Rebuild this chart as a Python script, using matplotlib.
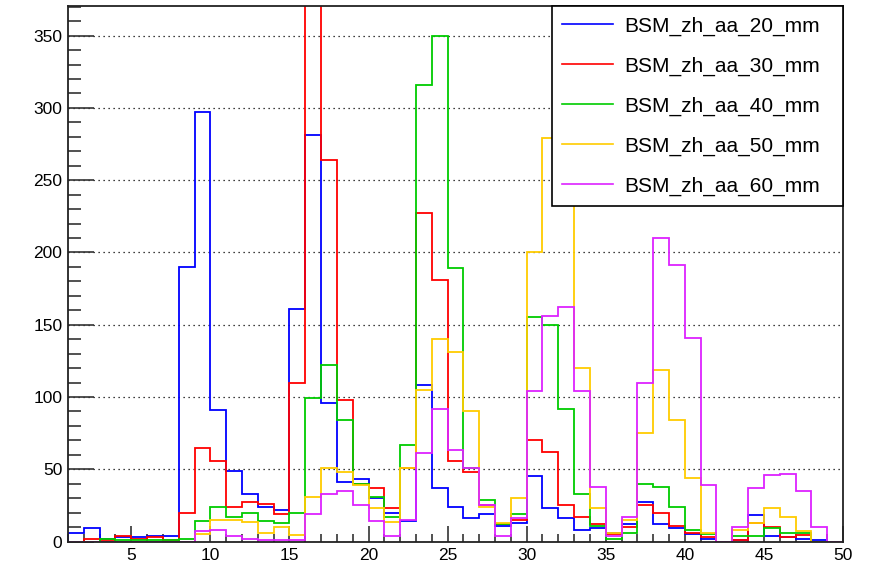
import matplotlib
matplotlib.use('Agg')
import matplotlib.pyplot as plt
import numpy as np
from matplotlib.ticker import MultipleLocator

plt.rcParams['font.family'] = ['Liberation Sans', 'DejaVu Sans']

# bin edges 1..50, one entry per bin
edges = np.arange(1, 51)

h20 = [6, 9, 2, 3, 3, 3.5, 3.5, 190, 297, 91,
       49, 33, 24, 22, 161, 281, 96, 41, 43, 30,
       20, 14, 108, 37, 24, 16, 19, 11, 13, 45,
       23, 16, 8, 9.5, 6, 12, 27, 12, 9, 5,
       2, 0, 1, 18, 4, 3, 2, 1, 0]
h30 = [0, 2, 1, 4, 2, 3, 1, 20, 65, 56,
       24, 27.5, 26, 19, 110, 400, 264, 98, 40, 37,
       23, 51, 227, 181, 56, 48, 25, 12, 15, 70,
       62, 25, 17, 12, 5, 10, 25, 20, 11, 6,
       3, 0, 1, 13, 10, 3, 4.5, 0, 0]
h40 = [0, 0, 1.5, 1, 1, 1, 1, 2, 14, 24,
       17, 20, 14, 13, 20, 99, 122, 84, 40, 31,
       17, 67, 316, 350, 189, 51, 29, 12, 19, 155,
       150, 92, 33, 11, 2, 6, 40, 38, 24, 8,
       5, 0, 4, 4, 9, 6, 6, 0, 0]
h50 = [0, 0, 0, 0, 0, 0, 0, 0, 5, 15,
       15, 13.5, 6, 10, 4.5, 31, 51, 48, 39, 23,
       13.5, 51, 105, 140, 131, 90, 24, 13, 30, 200,
       279, 255, 120, 23, 6, 15, 75, 119, 84, 44,
       6, 0, 8, 13, 23, 17, 7, 0, 0]
h60 = [0, 0, 0, 0, 0, 0, 0, 0, 7, 8,
       4, 2, 1, 1, 1, 19, 33, 35, 25, 14,
       4, 15, 61, 92, 63, 51, 25, 4, 16, 104,
       156, 162, 104, 38, 4, 17, 110, 210, 191, 141,
       39, 0, 10, 37, 46, 47, 35, 10, 0]

labels = ['BSM_zh_aa_20_mm', 'BSM_zh_aa_30_mm', 'BSM_zh_aa_40_mm',
          'BSM_zh_aa_50_mm', 'BSM_zh_aa_60_mm']
colors = ['#0000ff', '#ff0000', '#00cc00', '#ffcc00', '#dd22ff']

fig = plt.figure(figsize=(8.75, 5.68), dpi=100)
ax = fig.add_axes([68/875, 26.5/568, 775/875, 535.5/568])

for vals, lab, col in zip([h20, h30, h40, h50, h60], labels, colors):
    ax.stairs(vals, edges, baseline=0, color=col, lw=1.3, label=lab)

ax.set_xlim(1, 50)
ax.set_ylim(0, 370.5)

ax.xaxis.set_major_locator(MultipleLocator(5))
ax.xaxis.set_minor_locator(MultipleLocator(1))
ax.yaxis.set_major_locator(MultipleLocator(50))
ax.yaxis.set_minor_locator(MultipleLocator(10))
ax.set_xticks([5, 10, 15, 20, 25, 30, 35, 40, 45, 50])

ax.tick_params(axis='both', which='both', direction='in', labelsize=12.5,
               width=1.2, color='#333333', top=False, right=False)
ax.tick_params(axis='y', which='major', length=18.7, pad=4)
ax.tick_params(axis='y', which='minor', length=9)
ax.tick_params(axis='x', which='major', length=11.5, pad=5)
ax.tick_params(axis='x', which='minor', length=5.8)

ax.grid(axis='y', which='major', linestyle=(0, (1, 3)), color='black', lw=0.9)
ax.set_axisbelow(True)

for s in ax.spines.values():
    s.set_linewidth(1.3)
    s.set_color('#222222')

# legend box spans the right part of the frame, top aligned
leg = ax.legend(loc='upper left', bbox_to_anchor=(484/775, 0, 291/775, 1),
                mode='expand', borderaxespad=0,
                fancybox=False, edgecolor='black', framealpha=1, fontsize=15,
                handlelength=2.45, handletextpad=0.53, labelspacing=1.0,
                borderpad=0.5)
leg.get_frame().set_linewidth(1.2)
for line in leg.get_lines():
    line.set_linewidth(1.2)

fig.savefig('out.png', dpi=100)
